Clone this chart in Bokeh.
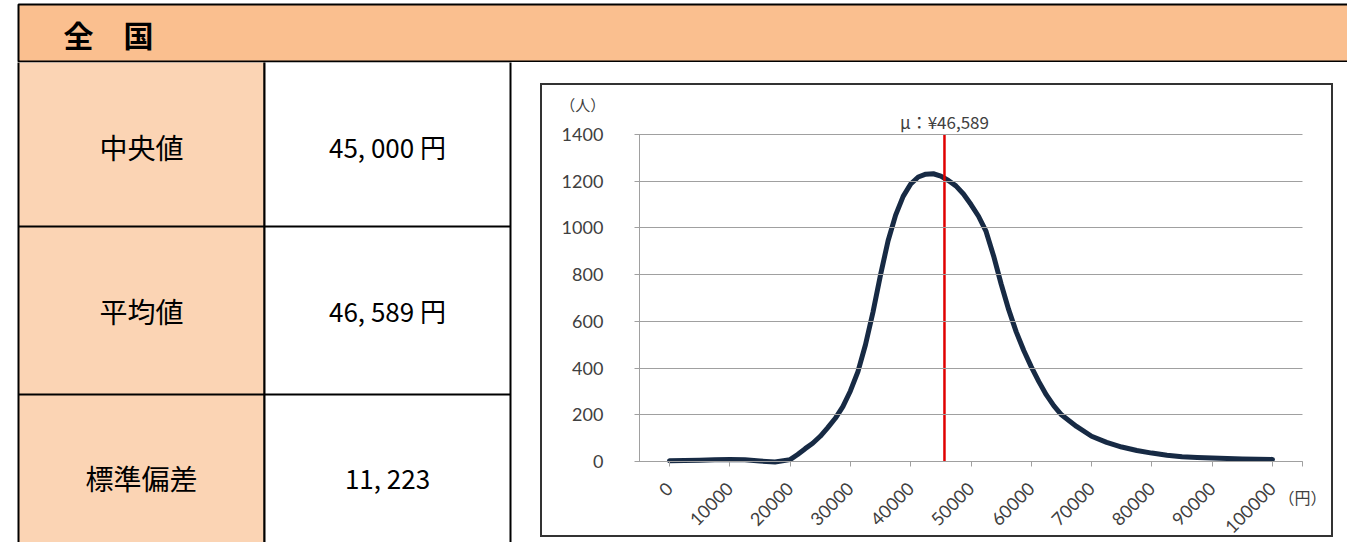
import math
from bokeh.plotting import figure
from bokeh.layouts import column, row
from bokeh.models import Range1d, FixedTicker, LinearAxis, Spacer
from bokeh.core.properties import value
from bokeh.embed import file_html
from bokeh.resources import INLINE

# ---------------- data ----------------
region = "全　国"
stat_labels = ["中央値", "平均値", "標準偏差"]
stat_values = ["45, 000 円", "46, 589 円", "11, 223"]

income = [0, 2500, 5000, 7500, 10000, 12500, 15000, 17500, 20000, 21250,
          22500, 23750, 25000, 26250, 27500, 28750, 30000, 31250, 32500, 33750,
          35000, 36250, 37500, 38750, 40000, 41250, 42500, 43750, 45000, 46250,
          47500, 48750, 50000, 51250, 52500, 53750, 55000, 56250, 57500, 58750,
          60000, 61250, 62500, 63750, 65000, 67500, 70000, 72500, 75000, 77500,
          80000, 82500, 85000, 87500, 90000, 92500, 95000, 97500, 100000]
people = [3, 4, 5, 7, 9, 7, 2, -2, 8, 30,
          55, 78, 108, 145, 185, 235, 302, 385, 500, 640,
          800, 945, 1055, 1135, 1188, 1218, 1230, 1232, 1222, 1203,
          1180, 1145, 1100, 1050, 985, 880, 760, 650, 555, 475,
          405, 342, 285, 238, 200, 150, 108, 82, 62, 47,
          36, 27, 20, 17, 15, 13, 11, 10, 9]

mean_label = "μ：¥46,589"
mean_marker_x = 45600

xticks = [0, 10000, 20000, 30000, 40000, 50000, 60000, 70000, 80000, 90000, 100000]
xtick_labels = ["0", "10000", "20000", "30000", "40000", "50000", "60000",
                "70000", "80000", "90000", "100000"]
yticks = [0, 200, 400, 600, 800, 1000, 1200, 1400]
ytick_labels = ["0", "200", "400", "600", "800", "1000", "1200", "1400"]
y_unit = "（人）"
x_unit = "（円）"

# ---------------- styles ----------------
HEADER_FILL = "#FABF8F"
LABEL_FILL = "#FBD4B4"
CJK = "Noto Sans CJK JP"
TICK_FONT = "Lato"
GRID = "#a0a0a0"
TXT = "#404040"


def blank(width, height, xr, yr):
    f = figure(width=width, height=height, x_range=xr, y_range=yr,
               x_axis_location=None, y_axis_location=None,
               toolbar_location=None, output_backend="svg", min_border=0)
    f.outline_line_color = None
    f.xgrid.grid_line_color = None
    f.ygrid.grid_line_color = None
    f.background_fill_color = "white"
    f.border_fill_color = "white"
    return f


# ---------- header (root y 0..62) ----------
hdr = blank(1347, 62, Range1d(0, 1347), Range1d(62, 0))
hdr.quad(left=[18], right=[1400], top=[4], bottom=[61],
         fill_color=HEADER_FILL, line_color="black", line_width=2)
hdr.text(x=[63], y=[33], text=[region], text_font=value(CJK),
         text_font_style="bold", text_font_size="30px", text_color="black",
         text_align="left", text_baseline="middle")

# ---------- table (root y 62..542, x 0..512) ----------
tbl = blank(512, 480, Range1d(0, 512), Range1d(542, 62))
tbl.quad(left=[18], right=[264], top=[61], bottom=[600],
         fill_color=LABEL_FILL, line_color="black", line_width=2)
tbl.quad(left=[264], right=[510], top=[61], bottom=[600],
         fill_color="white", line_color="black", line_width=2)
tbl.segment(x0=[18, 18], y0=[226, 394], x1=[510, 510], y1=[226, 394],
            line_color="black", line_width=2)
row_y = [146, 310, 477]
tbl.text(x=[141] * 3, y=row_y, text=stat_labels, text_font=value(CJK),
         text_font_size="28px", text_color="black",
         text_align="center", text_baseline="middle")
tbl.text(x=[387] * 3, y=row_y, text=stat_values, text_font=value(CJK),
         text_font_size="26px", text_color="black",
         text_align="center", text_baseline="middle")

# ---------- chart (box at root x 540..1333, y 83..537) ----------
px_per_x = 603 / 100000.0
px_per_y = 327 / 1400.0
xr = Range1d((540 - 669) / px_per_x, (1333 - 669) / px_per_x)
yr = Range1d(-(537 - 461) / px_per_y, (461 - 83) / px_per_y)

ch = figure(width=793, height=454, x_range=xr, y_range=yr,
            x_axis_location=None, y_axis_location=None,
            toolbar_location=None, output_backend="svg", min_border=0)
ch.xgrid.grid_line_color = None
ch.ygrid.grid_line_color = None
ch.outline_line_color = "#333333"
ch.outline_line_width = 3
ch.border_fill_color = "white"
ch.background_fill_color = "white"

x_left = -5000
x_right = 105000
yax = LinearAxis(fixed_location=x_left, bounds=(yticks[0], yticks[-1]),
                 ticker=FixedTicker(ticks=yticks),
                 major_label_overrides=dict(zip(yticks, ytick_labels)))
yax.major_tick_out = 5
yax.major_tick_in = int(round((x_right - x_left) * px_per_x))
yax.minor_tick_line_color = None
yax.axis_line_color = GRID
yax.major_tick_line_color = GRID
yax.major_label_standoff = 31
yax.major_label_text_font = TICK_FONT
yax.major_label_text_font_size = "18px"
yax.major_label_text_color = TXT
ch.add_layout(yax, "left")

xax = LinearAxis(fixed_location=0, bounds=(x_left, x_right),
                 ticker=FixedTicker(ticks=xticks + [x_right]),
                 major_label_overrides={**dict(zip(xticks, xtick_labels)), x_right: ""})
xax.major_tick_out = 5
xax.major_tick_in = 0
xax.minor_tick_line_color = None
xax.axis_line_color = GRID
xax.major_tick_line_color = GRID
xax.major_label_orientation = math.pi / 4
xax.major_label_standoff = 19
xax.major_label_text_font = TICK_FONT
xax.major_label_text_font_size = "18px"
xax.major_label_text_color = TXT
ch.add_layout(xax, "below")

ch.line(income, people, line_width=5, line_color="#172a44",
        line_join="round", line_cap="round")
ch.segment(x0=[mean_marker_x], y0=[yticks[0]], x1=[mean_marker_x], y1=[yticks[-1]],
           line_color="#e00000", line_width=2.5)
ch.text(x=[mean_marker_x], y=[1455], text=[mean_label], text_font=value(CJK),
        text_font_size="17px", text_color=TXT,
        text_align="center", text_baseline="middle")
ch.text(x=[-14400], y=[1530], text=[y_unit], text_font=value(CJK),
        text_font_size="15px", text_color=TXT,
        text_align="center", text_baseline="middle")
ch.text(x=[104975], y=[-154], text=[x_unit], text_font=value(CJK),
        text_font_size="16px", text_color=TXT,
        text_align="center", text_baseline="middle")

right_cell = column(Spacer(width=835, height=21),
                    row(Spacer(width=28, height=454), ch))
layout = column(hdr, row(tbl, right_cell))
open("out.html", "w").write(file_html(layout, INLINE, title="全国"))
